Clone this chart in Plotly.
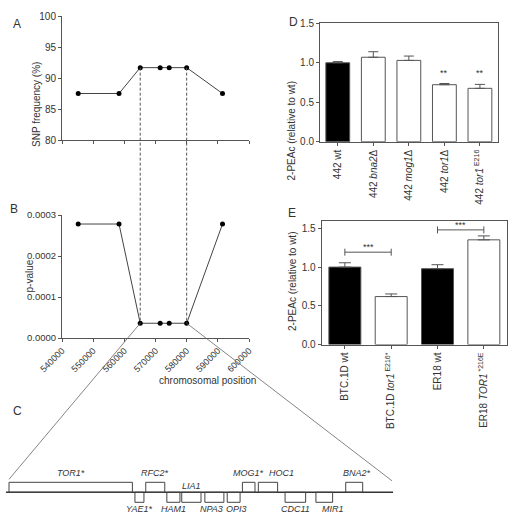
import plotly.graph_objects as go

# ---------------- data ----------------
snp_pos = [545200, 558300, 565100, 571500, 574400, 580000, 591500]
snp_freq = [87.5, 87.5, 91.67, 91.67, 91.67, 91.67, 87.5]
p_values = [0.000278, 0.000278, 0.000036, 0.000036, 0.000036, 0.000036, 0.000278]
interval = [565100, 580000]
pos_ticks = [540000, 550000, 560000, 570000, 580000, 590000, 600000]
pos_ticktext = ["540000", "550000", "560000", "570000", "580000", "590000", "600000"]

genes = ["TOR1*", "YAE1*", "RFC2*", "HAM1", "LIA1", "NPA3", "OPI3", "MOG1*", "HOC1", "CDC11", "MIR1", "BNA2*"]
gene_start = [565100, 570000, 570420, 571240, 571820, 572720, 573590, 574180, 574800, 575840, 577040, 578200]
gene_end = [569900, 570350, 571160, 571750, 572570, 573460, 574090, 574670, 575550, 576640, 577690, 578860]
gene_strand = [1, -1, 1, -1, -1, -1, -1, 1, 1, -1, -1, 1]
label_side = [1, -1, 1, -1, 1, -1, -1, 1, 1, -1, -1, 1]
chrom_segment = [564980, 580040]

d_labels = ["442 wt", "442 <i>bna2</i>Δ", "442 <i>mog1</i>Δ", "442 <i>tor1</i>Δ", "442 <i>tor1</i><sup> E216</sup>"]
d_values = [1.0, 1.07, 1.03, 0.722, 0.676]
d_err = [0.015, 0.07, 0.055, 0.015, 0.05]
d_black = [True, False, False, False, False]
d_sig = ["", "", "", "**", "**"]

e_labels = ["BTC.1D wt", "BTC.1D <i>tor1</i><sup> E216*</sup>", "ER18 wt", "ER18 <i>TOR1</i><sup> *216E</sup>"]
e_values = [1.003, 0.621, 0.982, 1.356]
e_err = [0.056, 0.034, 0.052, 0.051]
e_black = [True, False, True, False]
e_brackets = [(0, 1, 1.196, "***"), (2, 3, 1.485, "***")]

# ---------------- layout geometry ----------------
W, H = 509, 519
def px(x): return x / W
def py(y): return 1 - y / H

AB_X = [px(62), px(249)]
A_Y = [py(140), py(16)]
B_Y = [py(338), py(215)]
D_X = [px(320), px(497.7)]
D_Y = [py(141.7), py(23.3)]
E_X = [px(321.7), px(507)]
E_Y = [py(344.5), py(221)]
C_X = [0, 1]
C_Y = [py(512.3), py(472.3)]

POS_RANGE = [540000, 600000]
A_RANGE = [80, 100]
B_RANGE = [0, 0.0003]
bp_per_px = (interval[1] - interval[0]) / (392 - 9)
C_XRANGE = [interval[0] - 9 * bp_per_px, interval[0] + (W - 9) * bp_per_px]
C_YRANGE = [-2, 2]

def to_paper(v, dom, rng):
    return dom[0] + (v - rng[0]) / (rng[1] - rng[0]) * (dom[1] - dom[0])

TXT = "#333333"
LINE = "#555555"
FONT = "Liberation Sans, Arial, sans-serif"

def f(size):
    return dict(size=size, color=TXT, family=FONT)

fig = go.Figure()

# Panel A
fig.add_trace(go.Scatter(x=snp_pos, y=snp_freq, mode="lines+markers",
                         line=dict(color="#444", width=1),
                         marker=dict(color="black", size=5),
                         xaxis="x", yaxis="y", showlegend=False))
# Panel B
fig.add_trace(go.Scatter(x=snp_pos, y=p_values, mode="lines+markers",
                         line=dict(color="#444", width=1),
                         marker=dict(color="black", size=5),
                         xaxis="x2", yaxis="y2", showlegend=False))

# Panel D bars
fig.add_trace(go.Bar(x=list(range(len(d_values))), y=d_values,
                     marker=dict(color=["black" if b else "white" for b in d_black],
                                 line=dict(color=LINE, width=1)),
                     error_y=dict(type="data", array=d_err, arrayminus=[0] * len(d_err),
                                  symmetric=False, color=LINE, thickness=1, width=5),
                     width=0.67, xaxis="x3", yaxis="y3", showlegend=False))
# Panel E bars
fig.add_trace(go.Bar(x=list(range(len(e_values))), y=e_values,
                     marker=dict(color=["black" if b else "white" for b in e_black],
                                 line=dict(color=LINE, width=1)),
                     error_y=dict(type="data", array=e_err, arrayminus=[0] * len(e_err),
                                  symmetric=False, color=LINE, thickness=1, width=6),
                     width=0.69, xaxis="x4", yaxis="y4", showlegend=False))
# significance brackets
for i0, i1, yv, s in e_brackets:
    fig.add_trace(go.Scatter(x=[i0, i1], y=[yv, yv], mode="lines+markers",
                             line=dict(color=LINE, width=1),
                             marker=dict(symbol="line-ns-open", size=5, color=LINE, line=dict(width=1, color=LINE)),
                             xaxis="x4", yaxis="y4", showlegend=False))

shapes = []
annotations = []

# Panel C: chromosome line & gene boxes
shapes.append(dict(type="line", xref="x5", yref="y5", x0=chrom_segment[0], x1=chrom_segment[1],
                   y0=0, y1=0, line=dict(color="#333", width=1.5)))
label_shift = {"HOC1": 14, "MIR1": 9, "BNA2*": 3, "NPA3": -3, "OPI3": 3}
for g, s0, s1, st, ls in zip(genes, gene_start, gene_end, gene_strand, label_side):
    shapes.append(dict(type="rect", xref="x5", yref="y5", x0=s0, x1=s1,
                       y0=0, y1=st, line=dict(color="#444", width=1), fillcolor="rgba(0,0,0,0)"))
    yv = 1.95 if ls > 0 else -1.7
    if g == "LIA1":
        yv = 0.65
    annotations.append(dict(x=(s0 + s1) / 2, y=yv, xref="x5", yref="y5", text="<i>%s</i>" % g,
                            showarrow=False, xshift=label_shift.get(g, 0), font=f(9)))

# dashed vertical lines from A down to B
for pos, fa, pb in [(interval[0], snp_freq[2], p_values[2]), (interval[1], snp_freq[5], p_values[5])]:
    xp = to_paper(pos, AB_X, POS_RANGE)
    shapes.append(dict(type="line", xref="paper", yref="paper", x0=xp, x1=xp,
                       y0=to_paper(fa, A_Y, A_RANGE), y1=to_paper(pb, B_Y, B_RANGE),
                       line=dict(color="#555", width=1, dash="3px,2px")))

# connecting lines B -> C
for pos, pb, yc in [(interval[0], p_values[2], 1.3), (interval[1], p_values[5], 1.15)]:
    shapes.append(dict(type="line", xref="paper", yref="paper",
                       x0=to_paper(pos, AB_X, POS_RANGE), y0=to_paper(pb, B_Y, B_RANGE),
                       x1=to_paper(pos, C_X, C_XRANGE), y1=to_paper(yc, C_Y, C_YRANGE),
                       line=dict(color="#666", width=0.8)))

# significance stars
for i, s in enumerate(d_sig):
    if s:
        annotations.append(dict(x=i, y=0.873, xref="x3", yref="y3", text=s, showarrow=False, font=f(9)))
for i0, i1, yv, s in e_brackets:
    annotations.append(dict(x=(i0 + i1) / 2, y=yv, xref="x4", yref="y4", text=s, showarrow=False,
                            yshift=5, font=f(9)))

# panel letters
for letter, x, y in [("A", 11, 15), ("B", 8, 209), ("C", 11, 420), ("D", 293, 13), ("E", 292, 213)]:
    annotations.append(dict(x=px(x), y=py(y), xref="paper", yref="paper", text=letter, showarrow=False,
                            font=f(12)))

# axis titles
annotations += [
    dict(x=px(29), y=py(60), xref="paper", yref="paper", text="SNP frequency (%)", textangle=-90,
         showarrow=False, font=f(10)),
    dict(x=px(21), y=py(276), xref="paper", yref="paper", text="p-value", textangle=-90,
         showarrow=False, font=f(10)),
    dict(x=px(157), y=py(388), xref="paper", yref="paper", text="chromosomal position",
         showarrow=False, font=f(10)),
    dict(x=px(291), y=py(80), xref="paper", yref="paper", text="2-PEAc (relative to wt)", textangle=-90,
         showarrow=False, font=f(10)),
    dict(x=px(292), y=py(282), xref="paper", yref="paper", text="2-PEAc (relative to wt)", textangle=-90,
         showarrow=False, font=f(10)),
]

axis_common = dict(showline=True, linecolor=LINE, linewidth=1, ticks="outside", ticklen=3,
                   tickcolor=LINE, showgrid=False, zeroline=False, automargin=False)

fig.update_layout(
    width=W, height=H, margin=dict(l=0, r=0, t=0, b=0),
    paper_bgcolor="white", plot_bgcolor="rgba(0,0,0,0)",
    font=dict(family=FONT, color=TXT),
    shapes=shapes, annotations=annotations, showlegend=False,
    xaxis=dict(domain=AB_X, anchor="y", range=POS_RANGE, tickvals=pos_ticks,
               showticklabels=False, **axis_common),
    yaxis=dict(domain=A_Y, anchor="x", range=A_RANGE, tickvals=[80, 85, 90, 95, 100],
               tickfont=f(10), **axis_common),
    xaxis2=dict(domain=AB_X, anchor="y2", range=POS_RANGE, tickvals=pos_ticks, ticktext=pos_ticktext,
                tickangle=-45, tickfont=f(9), **axis_common),
    yaxis2=dict(domain=B_Y, anchor="x2", range=B_RANGE, tickvals=[0, 0.0001, 0.0002, 0.0003],
                ticktext=["0.0000", "0.0001", "0.0002", "0.0003"], tickfont=f(9.5), **axis_common),
    xaxis3=dict(domain=D_X, anchor="y3", range=[-0.5, len(d_values) - 0.5],
                tickvals=list(range(len(d_values))), ticktext=d_labels, tickangle=-90, mirror=True,
                tickfont=f(10), **axis_common),
    yaxis3=dict(domain=D_Y, anchor="x3", range=[0, 1.5], tickvals=[0, 0.5, 1.0, 1.5],
                ticktext=["0.0", "0.5", "1.0", "1.5"], mirror=True, tickfont=f(10), **axis_common),
    xaxis4=dict(domain=E_X, anchor="y4", range=[-0.5, len(e_values) - 0.5],
                tickvals=list(range(len(e_values))), ticktext=e_labels, tickangle=-90, mirror=True,
                tickfont=f(10), **axis_common),
    yaxis4=dict(domain=E_Y, anchor="x4", range=[0, 1.6], tickvals=[0, 0.5, 1.0, 1.5],
                ticktext=["0.0", "0.5", "1.0", "1.5"], mirror=True, tickfont=f(10), **axis_common),
    xaxis5=dict(domain=C_X, anchor="y5", range=C_XRANGE, visible=False),
    yaxis5=dict(domain=C_Y, anchor="x5", range=C_YRANGE, visible=False),
)

fig.write_html("out.html")
